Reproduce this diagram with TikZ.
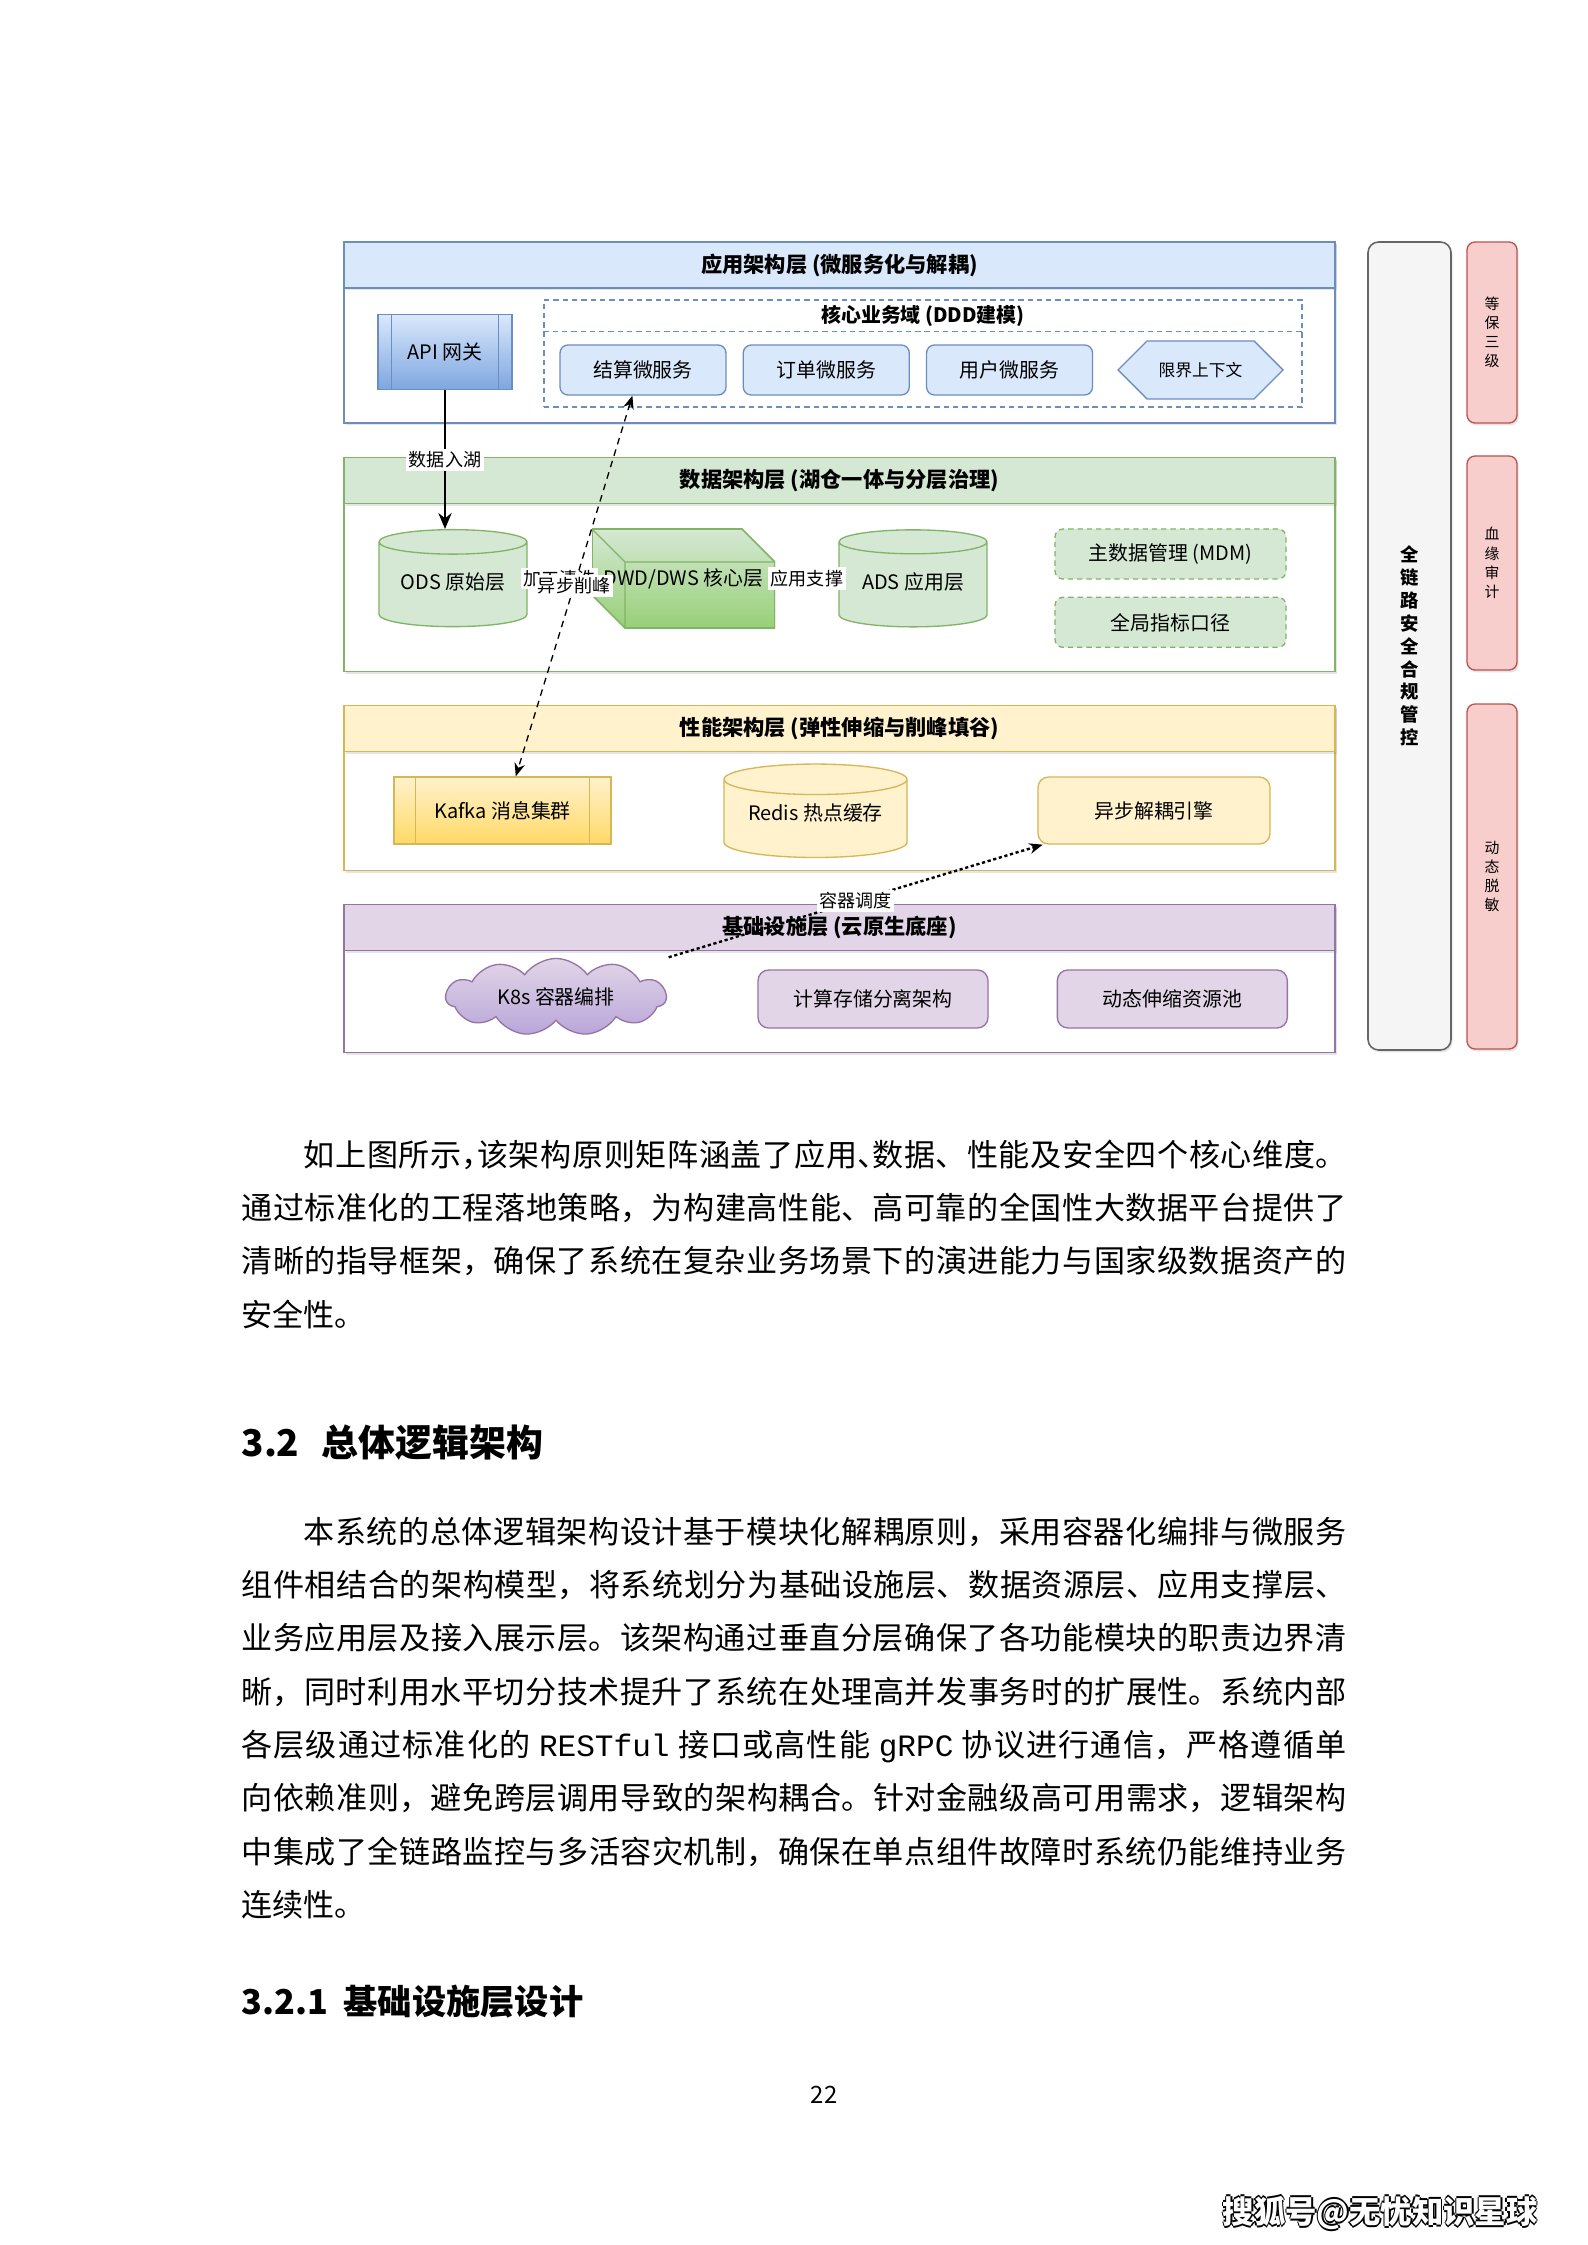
\documentclass[tikz,border=0pt]{standalone}
\usepackage{fontspec}
\setmainfont{Noto Sans CJK SC}
\newfontfamily\monofont{Liberation Mono}
\usetikzlibrary{positioning, arrows.meta, calc}
\usetikzlibrary{shapes.geometric, shapes.symbols, shadows}
\XeTeXlinebreaklocale "zh"
\XeTeXlinebreakskip=0pt plus 1pt minus 0.1pt

\definecolor{bluefill}{HTML}{DAE8FC}
\definecolor{bluedraw}{HTML}{6C8EBF}
\definecolor{bluedark}{HTML}{7EA6E0}
\definecolor{greenfill}{HTML}{D5E8D4}
\definecolor{greendraw}{HTML}{82B366}
\definecolor{greendark}{HTML}{97D077}
\definecolor{yellowfill}{HTML}{FFF2CC}
\definecolor{yellowdraw}{HTML}{D6B656}
\definecolor{yellowdark}{HTML}{FFD966}
\definecolor{purplefill}{HTML}{E1D5E7}
\definecolor{purpledraw}{HTML}{9673A6}
\definecolor{purpledark}{HTML}{B9A6D9}
\definecolor{redfill}{HTML}{F8CECC}
\definecolor{reddraw}{HTML}{B85450}
\definecolor{grayfill}{HTML}{F5F5F5}
\definecolor{graydraw}{HTML}{666666}

% one pixel of the page image
\newcommand{\px}{0.3765pt}
% half-width punctuation
\newcommand{\hp}[1]{\makebox[0.5em][l]{#1}}
% white text with a dark rim
\newcommand{\halo}[1]{%
  \rlap{\raisebox{0.6pt}{\textcolor{black}{#1}}}%
  \rlap{\raisebox{-0.6pt}{\textcolor{black}{#1}}}%
  \rlap{\hspace{0.6pt}\textcolor{black}{#1}}%
  \rlap{\hspace{-0.6pt}\textcolor{black}{#1}}%
  \textcolor{white}{#1}}

\begin{document}
\begin{tikzpicture}[
    x=0.13233mm, y=-0.13233mm,
    node distance=6pt,
    every node/.style={font=\fontsize{7.5pt}{9pt}\selectfont},
    wh/.style 2 args={minimum width=#1*\px, minimum height=#2*\px},
    shd/.style={drop shadow={shadow xshift=0.6pt, shadow yshift=-0.9pt, opacity=0.2}},
    layer/.style={rectangle, draw=#1draw, fill=white, line width=0.5pt, minimum width=991*\px, shd},
    hdr/.style={rectangle, draw=#1draw, fill=#1fill, line width=0.5pt, wh={991}{46}, font=\fontsize{8pt}{10pt}\selectfont\bfseries, shd},
    rbox/.style={rectangle, rounded corners=3pt, draw=#1draw, fill=#1fill, line width=0.5pt},
    proc/.style={rectangle, draw=#1draw, top color=#1fill, bottom color=#1dark, line width=0.5pt,
        path picture={
            \draw[#1draw, line width=0.4pt] ($(path picture bounding box.north west)!0.1!(path picture bounding box.north east)$) -- ($(path picture bounding box.south west)!0.1!(path picture bounding box.south east)$);
            \draw[#1draw, line width=0.4pt] ($(path picture bounding box.north west)!0.9!(path picture bounding box.north east)$) -- ($(path picture bounding box.south west)!0.9!(path picture bounding box.south east)$);
        }},
    cyl/.style={cylinder, shape border rotate=90, aspect=0.2, draw=#1draw, fill=#1fill, line width=0.5pt},
    cube/.style={rectangle, fill=white, wh={183}{99},
        path picture={
            \coordinate (cA) at (path picture bounding box.north west);
            \coordinate (cB) at ([xshift=-12.4pt]path picture bounding box.north east);
            \coordinate (cC) at ([yshift=-12.4pt]path picture bounding box.north east);
            \coordinate (cD) at (path picture bounding box.south east);
            \coordinate (cE) at ([xshift=12.4pt]path picture bounding box.south west);
            \coordinate (cF) at ([yshift=12.4pt]path picture bounding box.south west);
            \coordinate (cG) at ([xshift=12.4pt,yshift=-12.4pt]path picture bounding box.north west);
            \path[draw=greendraw, top color=greenfill, bottom color=greendark, line width=0.6pt] (cA) -- (cB) -- (cC) -- (cD) -- (cE) -- (cF) -- cycle;
            \draw[greendraw, line width=0.5pt] (cA) -- (cG) -- (cC) (cG) -- (cE);
        }},
    ctx/.style={signal, signal to=west and east, signal pointer angle=90, draw=bluedraw, fill=bluefill, line width=0.5pt, wh={165}{58}, font=\fontsize{6.3pt}{7.5pt}\selectfont},
    lbl/.style={fill=white, inner sep=1pt, font=\fontsize{6.8pt}{8pt}\selectfont},
    flow/.style={-{Stealth[length=6pt, width=5pt]}, line width=0.8pt},
    async/.style={{Stealth[length=5pt, width=4pt]}-{Stealth[length=5pt, width=4pt]}, dash pattern=on 2.5pt off 2pt, line width=0.5pt},
    sched/.style={-{Stealth[length=5pt, width=4pt]}, dash pattern=on 1.2pt off 1pt, line width=0.9pt},
    para/.style={text width=416pt, align=justify, inner sep=0pt, font=\fontsize{11.7pt}{20.1pt}\selectfont},
    head/.style={inner sep=0pt, font=\fontsize{13.9pt}{16pt}\selectfont\bfseries}
]
    \fill[white] (0,0) rectangle (1587,2245);
    \useasboundingbox (0,0) rectangle (1587,2245);

    % --- Four layers, stacked ---
    \node[layer=blue, minimum height=181*\px] (app) at (839.5,332.5) {};
    \node[layer=green, minimum height=214*\px, below=12.4pt of app] (data) {};
    \node[layer=yellow, minimum height=165*\px, below=12.4pt of data] (perf) {};
    \node[layer=purple, minimum height=148*\px, below=12.4pt of perf] (infra) {};

    \node[hdr=blue, anchor=north] (apphd) at (app.north) {应用架构层 (微服务化与解耦)};
    \node[hdr=green, anchor=north] (datahd) at (data.north) {数据架构层 (湖仓一体与分层治理)};
    \node[hdr=yellow, anchor=north] (perfhd) at (perf.north) {性能架构层 (弹性伸缩与削峰填谷)};
    \node[hdr=purple, anchor=north] (infrahd) at (infra.north) {基础设施层 (云原生底座)};

    % --- Application layer ---
    \node[proc=blue, wh={134}{75}] (api) at (445,352) {API 网关};
    \node[rectangle, draw=bluedraw, dash pattern=on 2pt off 1.5pt, line width=0.5pt, wh={758}{107}] (ddd) at (923,353.5) {};
    \draw[bluedraw, dash pattern=on 2pt off 1.5pt, line width=0.5pt] ($(ddd.north west)+(0,32)$) -- ($(ddd.north east)+(0,32)$);
    \node[font=\fontsize{7.5pt}{9pt}\selectfont\bfseries] (dddhd) at ($(ddd.north)+(0,17)$) {核心业务域 (DDD建模)};

    \node[rbox=blue, wh={166}{50}] (settle) at (643,370) {结算微服务};
    \node[rbox=blue, wh={166}{50}, right=of settle] (order) {订单微服务};
    \node[rbox=blue, wh={166}{50}, right=of order] (user) {用户微服务};
    \node[ctx, right=9pt of user] (bctx) {限界上下文};

    % --- Data layer ---
    \node[cyl=green, wh={148}{97}] (ods) at (453,587.5) {\raisebox{5pt}{ODS 原始层}};
    \node[cube] (dwd) at (683.5,578.5) {DWD/DWS 核心层};
    \node[cyl=green, wh={148}{97}] (ads) at (913,587.5) {\raisebox{5pt}{ADS 应用层}};
    \node[rbox=green, dash pattern=on 2pt off 1.5pt, wh={231}{50}] (mdm) at (1170.5,554) {主数据管理 (MDM)};
    \node[rbox=green, dash pattern=on 2pt off 1.5pt, wh={231}{50}, below=6.4pt of mdm] (kpi) {全局指标口径};

    % --- Performance layer ---
    \node[proc=yellow, wh={217}{67}] (kafka) at (502.5,810.5) {Kafka 消息集群};
    \node[cyl=yellow, wh={183}{80}] (redis) at (815.5,822) {\raisebox{7.2pt}{Redis 热点缓存}};
    \node[rbox=yellow, rounded corners=4pt, wh={232}{67}] (eng) at (1154,810.5) {异步解耦引擎};

    % --- Infrastructure layer ---
    \node[cloud, cloud puffs=11, cloud puff arc=110, cloud ignores aspect, draw=purpledraw, top color=purplefill, bottom color=purpledark, line width=0.5pt, wh={220}{62}] (k8s) at (556,997) {K8s 容器编排};
    \node[rbox=purple, rounded corners=4pt, wh={230}{58}] (split) at (873,999) {计算存储分离架构};
    \node[rbox=purple, rounded corners=4pt, wh={230}{58}, right=25.6pt of split] (pool) {动态伸缩资源池};

    % --- Security column ---
    \node[rectangle, rounded corners=4pt, draw=graydraw, fill=grayfill, line width=0.6pt, wh={83}{808}, shd, align=center, font=\fontsize{6.9pt}{8.6pt}\selectfont\bfseries] (sec) at (1409.5,646) {全\\链\\路\\安\\全\\合\\规\\管\\控};
    \node[rbox=red, wh={50}{181}, shd, align=center, font=\fontsize{5.6pt}{7.2pt}\selectfont] (mlps) at (1492,332.5) {等\\保\\三\\级};
    \node[rbox=red, wh={50}{214}, shd, align=center, font=\fontsize{5.6pt}{7.2pt}\selectfont] (audit) at (1492,563) {血\\缘\\审\\计};
    \node[rbox=red, wh={50}{345}, shd, align=center, font=\fontsize{5.6pt}{7.2pt}\selectfont] (mask) at (1492,876.5) {动\\态\\脱\\敏};

    % --- Connections ---
    \draw[flow] (api) -- node[lbl] {数据入湖} (api |- ods.north);
    \draw (ods.east |- dwd.west) -- node[lbl] {加工清洗} (dwd.west);
    \draw (dwd.east) -- node[lbl] {应用支撑} (ads.west |- dwd.east);
    \draw[async] ([xshift=-4pt]settle.south) -- node[lbl] {异步削峰} ([xshift=5pt]kafka.north);
    \draw[sched] ([xshift=14pt, yshift=5pt]k8s.north east) -- node[lbl] {容器调度} ([xshift=2pt]eng.south west);

    % --- Text below the figure ---
    \node[para, anchor=base west] (para1) at (241,1166) {\hspace*{2em}如上图所示\hp{，}该架构原则矩阵涵盖了应用\hp{、}数据、性能及安全四个核心维度。\linebreak 通过标准化的工程落地策略，为构建高性能、高可靠的全国性大数据平台提供了\linebreak 清晰的指导框架，确保了系统在复杂业务场景下的演进能力与国家级数据资产的\linebreak 安全性。};
    \node[head, anchor=base west] (sec32) at (241,1456) {3.2\hspace{0.6em}总体逻辑架构};
    \node[para, anchor=base west] (para2) at (241,1543) {\hspace*{2em}本系统的总体逻辑架构设计基于模块化解耦原则，采用容器化编排与微服务\linebreak 组件相结合的架构模型，将系统划分为基础设施层、数据资源层、应用支撑层、\linebreak 业务应用层及接入展示层。该架构通过垂直分层确保了各功能模块的职责边界清\linebreak 晰，同时利用水平切分技术提升了系统在处理高并发事务时的扩展性。系统内部\linebreak 各层级通过标准化的 {\monofont RESTful} 接口或高性能 {\monofont gRPC} 协议进行通信，严格遵循单\linebreak 向依赖准则，避免跨层调用导致的架构耦合。针对金融级高可用需求，逻辑架构\linebreak 中集成了全链路监控与多活容灾机制，确保在单点组件故障时系统仍能维持业务\linebreak 连续性。};
    \node[head, font=\fontsize{12.9pt}{15pt}\selectfont\bfseries, anchor=base west] (sec321) at (241,2014) {3.2.1\hspace{0.45em}基础设施层设计};
    \node[font=\fontsize{9pt}{11pt}\selectfont] (pgnum) at (824,2095) {22};
    \node[anchor=east, font=\fontsize{11.8pt}{14pt}\selectfont\bfseries] (sohu) at (1547,2213) {\halo{搜狐号@无忧知识星球}};
\end{tikzpicture}
\end{document}
